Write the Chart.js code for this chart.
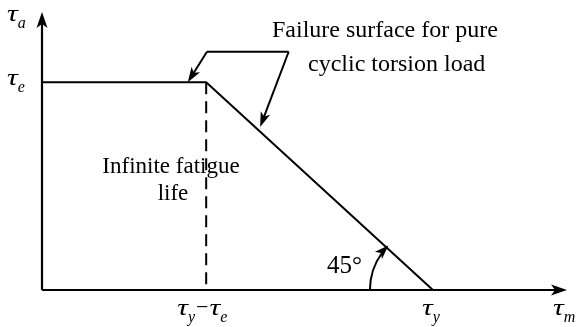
<!DOCTYPE html>
<html>
<head>
<meta charset="utf-8">
<script src="https://cdn.jsdelivr.net/npm/chart.js@4/dist/chart.umd.min.js"></script>
<style>
  html, body { margin: 0; padding: 0; background: #fff; }
  canvas { display: block; }
</style>
</head>
<body>
<canvas id="fatigue" width="584" height="327"></canvas>
<script>
// stress values (normalised to the yield shear stress)
const tauY = 1.0;
const tauE = 0.58;
const kneeX = tauY - tauE;

// failure surface: flat at tau_e, then 45 deg down to tau_y
const surfaceX = [0, kneeX, tauY];
const surfaceY = [tauE, tauE, 0];

// dashed divider from the knee to the tau_m axis
const dividerX = [kneeX, kneeX];
const dividerY = [tauE, 0];

const axisMax = { x: 1.343, y: 0.776 };

// callout arrow anchors (data units)
const calloutElbow = [[0.422, 0.665], [0.631, 0.665]];
const calloutTips = [[0.373, tauE], [0.558, 0.455]];

const serif = '"Liberation Serif", "Times New Roman", serif';
const TAU_SIZE = 24, SUB_SIZE = 16, TAU_STRETCH = 1.25;

function arrowHead(ctx, x, y, angle, len, wid) {
  ctx.save();
  ctx.translate(x, y);
  ctx.rotate(angle);
  ctx.beginPath();
  ctx.moveTo(0, 0);
  ctx.lineTo(-len, -wid / 2);
  ctx.lineTo(-len * 0.75, 0);
  ctx.lineTo(-len, wid / 2);
  ctx.closePath();
  ctx.fill();
  ctx.restore();
}

// tau with a subscript, starting at x0; returns the total width
function tauLabel(ctx, sub, x0, y) {
  ctx.textAlign = 'left';
  ctx.textBaseline = 'alphabetic';
  ctx.font = 'italic ' + TAU_SIZE + 'px ' + serif;
  const w1 = ctx.measureText('\u03C4').width * TAU_STRETCH;
  ctx.save();
  ctx.translate(x0, y);
  ctx.scale(TAU_STRETCH, 1);
  ctx.fillText('\u03C4', 0, 0);
  ctx.restore();
  ctx.font = 'italic ' + SUB_SIZE + 'px ' + serif;
  const w2 = ctx.measureText(sub).width;
  ctx.fillText(sub, x0 + w1, y + 7);
  return w1 + w2;
}

const diagram = {
  id: 'diagram',
  afterDatasetsDraw(chart) {
    const ctx = chart.ctx;
    const xs = chart.scales.x, ys = chart.scales.y;
    const px = v => xs.getPixelForValue(v);
    const py = v => ys.getPixelForValue(v);
    const x0 = px(0), y0 = py(0);
    const xEnd = px(axisMax.x), yEnd = py(axisMax.y);

    ctx.save();
    ctx.strokeStyle = '#000';
    ctx.fillStyle = '#000';

    // axes
    ctx.lineWidth = 2.2;
    ctx.beginPath();
    ctx.moveTo(x0, y0);
    ctx.lineTo(xEnd - 8, y0);
    ctx.moveTo(x0, y0);
    ctx.lineTo(x0, yEnd + 8);
    ctx.stroke();
    arrowHead(ctx, xEnd, y0, 0, 16, 11);
    arrowHead(ctx, x0, yEnd, -Math.PI / 2, 16, 11);

    // callout lines
    ctx.lineWidth = 2;
    const e0 = [px(calloutElbow[0][0]), py(calloutElbow[0][1])];
    const e1 = [px(calloutElbow[1][0]), py(calloutElbow[1][1])];
    ctx.beginPath();
    ctx.moveTo(e1[0], e1[1]);
    ctx.lineTo(e0[0], e0[1]);
    ctx.stroke();
    [[e0, calloutTips[0]], [e1, calloutTips[1]]].forEach(([from, tip]) => {
      const tx = px(tip[0]), ty = py(tip[1]);
      const ang = Math.atan2(ty - from[1], tx - from[0]);
      ctx.beginPath();
      ctx.moveTo(from[0], from[1]);
      ctx.lineTo(tx - 10 * Math.cos(ang), ty - 10 * Math.sin(ang));
      ctx.stroke();
      arrowHead(ctx, tx, ty, ang, 15, 10);
    });

    // 45 degree arc at tau_y
    const cx = px(tauY), r = 63;
    ctx.beginPath();
    ctx.arc(cx, y0, r, Math.PI, Math.PI * 1.2, false);
    ctx.stroke();
    const ea = Math.PI * 1.25;
    const ax = cx + r * Math.cos(ea), ay = y0 + r * Math.sin(ea);
    arrowHead(ctx, ax, ay, ea + Math.PI / 2, 14, 10);

    // text
    ctx.textBaseline = 'alphabetic';
    ctx.textAlign = 'left';
    ctx.font = '24px ' + serif;
    ctx.fillText('Failure surface for pure', 272, 37);
    ctx.fillText('cyclic torsion load', 308, 71);
    ctx.textAlign = 'center';
    ctx.font = '23px ' + serif;
    ctx.fillText('Infinite fatigue', 171, 173);
    ctx.fillText('life', 173, 200);
    ctx.textAlign = 'left';
    ctx.font = '25px ' + serif;
    ctx.fillText('45\u00B0', 327, 273);

    tauLabel(ctx, 'a', 7, yEnd + 9);
    tauLabel(ctx, 'e', 7, py(tauE) + 3);
    tauLabel(ctx, 'y', px(tauY) - 11, y0 + 25);
    tauLabel(ctx, 'm', xEnd - 14, y0 + 25);

    // tau_y - tau_e under the knee
    const by = y0 + 25;
    let sx = px(kneeX) - 29;
    sx += tauLabel(ctx, 'y', sx, by) + 1;
    ctx.font = '22px ' + serif;
    ctx.fillText('\u2212', sx, by - 1);
    sx += ctx.measureText('\u2212').width + 1;
    tauLabel(ctx, 'e', sx, by);

    ctx.restore();
  }
};

new Chart(document.getElementById('fatigue'), {
  type: 'scatter',
  data: {
    datasets: [
      {
        label: 'Failure surface',
        data: surfaceX.map((x, i) => ({ x: x, y: surfaceY[i] })),
        showLine: true,
        borderColor: '#000',
        borderWidth: 2,
        pointRadius: 0,
        tension: 0
      },
      {
        label: 'Knee',
        data: dividerX.map((x, i) => ({ x: x, y: dividerY[i] })),
        showLine: true,
        borderColor: '#000',
        borderWidth: 2,
        borderDash: [12, 7],
        pointRadius: 0
      }
    ]
  },
  options: {
    responsive: false,
    animation: false,
    layout: { padding: { left: 42, right: 17, top: 12, bottom: 37 } },
    scales: {
      x: { type: 'linear', min: 0, max: axisMax.x, display: false },
      y: { type: 'linear', min: 0, max: axisMax.y, display: false }
    },
    plugins: {
      legend: { display: false },
      tooltip: { enabled: false }
    }
  },
  plugins: [diagram]
});
</script>
</body>
</html>
